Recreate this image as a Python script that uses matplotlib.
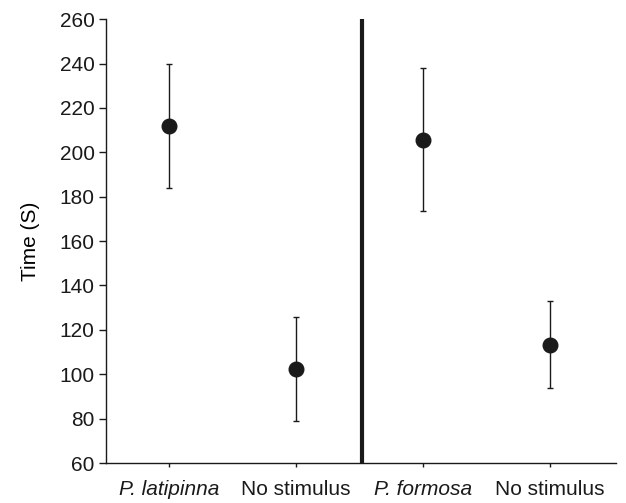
import matplotlib
matplotlib.use("Agg")
import matplotlib.pyplot as plt

categories = ["P. latipinna", "No stimulus", "P. formosa", "No stimulus"]
italic_flags = [True, False, True, False]
means = [211.8, 102.5, 205.5, 113.3]
upper = [239.7, 126.0, 238.0, 132.8]
lower = [183.9, 79.0, 173.6, 93.7]
positions = [1, 2, 3, 4]
divider_x = 2.52

plt.rcParams['font.family'] = ['Liberation Sans', 'DejaVu Sans']

fig = plt.figure(figsize=(6.26, 5.03), dpi=100)
ax = fig.add_axes([0.169, 0.0795, 0.815, 0.8825])

yerr = [[m - l for m, l in zip(means, lower)], [u - m for m, u in zip(means, upper)]]
ax.errorbar(positions, means, yerr=yerr, fmt='o', color='#1a1a1a', ecolor='#1a1a1a',
            markersize=10.5, elinewidth=1, capsize=2.5, capthick=1)

ax.axvline(divider_x, color='#1a1a1a', linewidth=3, ymin=0, ymax=1)

ax.set_xlim(0.5, 4.52)
ax.set_ylim(60, 260)
ax.set_yticks(range(60, 261, 20))
ax.set_xticks(positions)
ax.set_xticklabels(categories)
for lbl, it in zip(ax.get_xticklabels(), italic_flags):
    if it:
        lbl.set_style('italic')
ax.tick_params(axis='both', labelsize=15, colors='#1a1a1a', direction='out')
ax.tick_params(axis='y', length=5, width=1, pad=3)
ax.tick_params(axis='x', length=3, width=1, pad=9)
ax.set_ylabel("Time (S)", fontsize=15, labelpad=14)

ax.spines['top'].set_visible(False)
ax.spines['right'].set_visible(False)
for s in ['left', 'bottom']:
    ax.spines[s].set_color('#1a1a1a')
    ax.spines[s].set_linewidth(1)

fig.savefig("out.png", dpi=100)
